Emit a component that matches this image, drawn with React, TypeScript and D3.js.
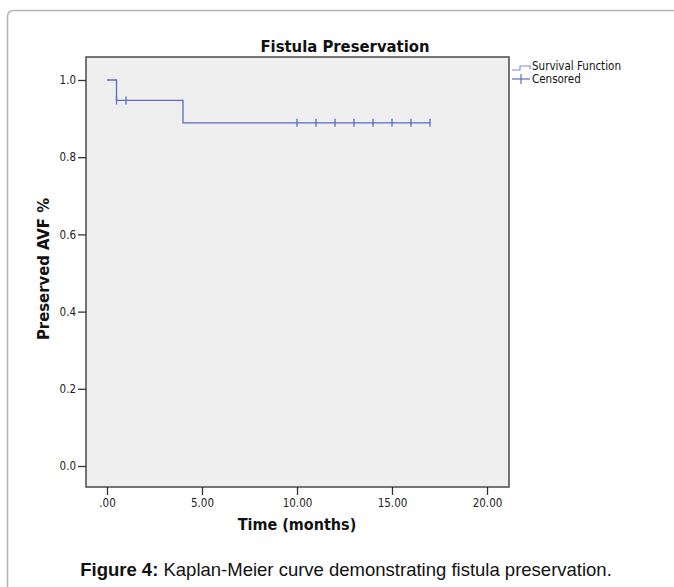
import * as d3 from 'd3';
import React, {useEffect, useRef} from 'react';

// Kaplan-Meier steps
const stepTimes = [0, 0.5, 4, 17];
const stepSurvival = [1.0, 0.947, 0.889, 0.889];
const censoredTimes = [0.5, 1, 10, 11, 12, 13, 14, 15, 16, 17];
const xTicks = [0, 5, 10, 15, 20];
const xTickLabels = ['.00', '5.00', '10.00', '15.00', '20.00'];
const yTicks = [0, 0.2, 0.4, 0.6, 0.8, 1.0];
const legendLabels = ['Survival Function', 'Censored'];

const W = 674, H = 587;
const plot = {l: 86, r: 509, t: 57, b: 487};
const lineColor = '#5a6dbf';
const labelFont = '"DejaVu Sans Condensed", "DejaVu Sans", sans-serif';

function survivalAt(t: number) {
    let s = stepSurvival[0];
    stepTimes.forEach((st, i) => { if (st <= t) s = stepSurvival[i]; });
    return s;
}

export default function App() {
    const ref = useRef<SVGSVGElement>(null);

    useEffect(() => {
        const svg = d3.select(ref.current);
        svg.selectAll('*').remove();

        const x = d3.scaleLinear().domain([0, 20]).range([107, 487]);
        const y = d3.scaleLinear().domain([0, 1]).range([466, 80]);

        // outer article frame (runs off the right and bottom edge)
        svg.append('path')
            .attr('d', `M7.5,${H + 5} L7.5,17 Q7.5,10.5 14,10.5 L${W + 5},10.5`)
            .attr('fill', 'none')
            .attr('stroke', '#b4b4b4')
            .attr('stroke-width', 1.5);

        // plot panel
        svg.append('rect')
            .attr('x', plot.l).attr('y', plot.t)
            .attr('width', plot.r - plot.l).attr('height', plot.b - plot.t)
            .attr('fill', '#efefef')
            .attr('stroke', '#4a4a4a')
            .attr('stroke-width', 1.5);

        // y axis ticks
        const yAxis = d3.axisLeft(y).tickValues(yTicks).tickSize(8).tickPadding(2)
            .tickFormat(d3.format('.1f'));
        const gy = svg.append('g').attr('transform', `translate(${plot.l},0)`).call(yAxis);
        gy.select('.domain').remove();
        gy.selectAll('.tick line').attr('stroke', '#333').attr('stroke-width', 1.3);
        gy.selectAll('.tick text')
            .style('font-family', labelFont).style('font-size', '11.5px').attr('fill', '#222');

        // x axis ticks
        const xAxis = d3.axisBottom(x).tickValues(xTicks).tickSize(8).tickPadding(4)
            .tickFormat((d, i) => xTickLabels[i]);
        const gx = svg.append('g').attr('transform', `translate(0,${plot.b})`).call(xAxis);
        gx.select('.domain').remove();
        gx.selectAll('.tick line').attr('stroke', '#333').attr('stroke-width', 1.3);
        gx.selectAll('.tick text')
            .style('font-family', labelFont).style('font-size', '11.5px').attr('fill', '#222');

        // survival step line
        const pts: [number, number][] = stepTimes.map((t, i) => [t, stepSurvival[i]]);
        const line = d3.line<[number, number]>()
            .x(d => x(d[0])).y(d => y(d[1]))
            .curve(d3.curveStepAfter);
        svg.append('path')
            .datum(pts)
            .attr('d', line)
            .attr('fill', 'none')
            .attr('stroke', lineColor)
            .attr('stroke-width', 1.3);

        // censored marks
        svg.selectAll('.cens')
            .data(censoredTimes)
            .enter().append('line')
            .attr('class', 'cens')
            .attr('x1', d => x(d)).attr('x2', d => x(d))
            .attr('y1', d => y(survivalAt(d)) - 4)
            .attr('y2', d => y(survivalAt(d)) + 4)
            .attr('stroke', lineColor)
            .attr('stroke-width', 1.3);

        // title and axis labels
        svg.append('text')
            .text('Fistula Preservation')
            .attr('x', 345).attr('y', 52)
            .attr('text-anchor', 'middle')
            .style('font-family', labelFont).style('font-size', '16.5px').style('font-weight', 'bold')
            .attr('fill', '#111');

        svg.append('text')
            .text('Time (months)')
            .attr('x', 297).attr('y', 530)
            .attr('text-anchor', 'middle')
            .style('font-family', labelFont).style('font-size', '16px').style('font-weight', 'bold')
            .attr('fill', '#111');

        svg.append('text')
            .text('Preserved AVF %')
            .attr('transform', `translate(49,${269}) rotate(-90)`)
            .attr('text-anchor', 'middle')
            .style('font-family', labelFont).style('font-size', '16.5px').style('font-weight', 'bold')
            .attr('fill', '#111');

        // legend
        const lg = svg.append('g').attr('transform', 'translate(512,66)');
        lg.append('path')
            .attr('d', 'M0,4 L8,4 L8,0 L18,0 L18,3')
            .attr('fill', 'none').attr('stroke', '#8090c8').attr('stroke-width', 1.2);
        lg.append('line').attr('x1', 0).attr('x2', 18).attr('y1', 13).attr('y2', 13)
            .attr('stroke', lineColor).attr('stroke-width', 1.2);
        lg.append('line').attr('x1', 9).attr('x2', 9).attr('y1', 8).attr('y2', 18)
            .attr('stroke', lineColor).attr('stroke-width', 1.2);
        lg.selectAll('text')
            .data(legendLabels)
            .enter().append('text')
            .text(d => d)
            .attr('x', 20).attr('y', (d, i) => 4 + i * 13)
            .style('font-family', labelFont).style('font-size', '11.5px')
            .attr('fill', '#111');

        // caption
        const cap = svg.append('text')
            .attr('x', 346).attr('y', 576)
            .attr('text-anchor', 'middle')
            .style('font-family', '"Liberation Sans", Arial, sans-serif').style('font-size', '18.5px')
            .attr('fill', '#111');
        cap.append('tspan').text('Figure 4:').style('font-weight', 'bold');
        cap.append('tspan').text(' Kaplan-Meier curve demonstrating fistula preservation.');
    }, []);

    return (
        <div style={{position: 'absolute', left: 0, top: 0}}>
            <svg ref={ref} width={W} height={H} style={{display: 'block', background: '#fff'}} />
        </div>
    );
}
